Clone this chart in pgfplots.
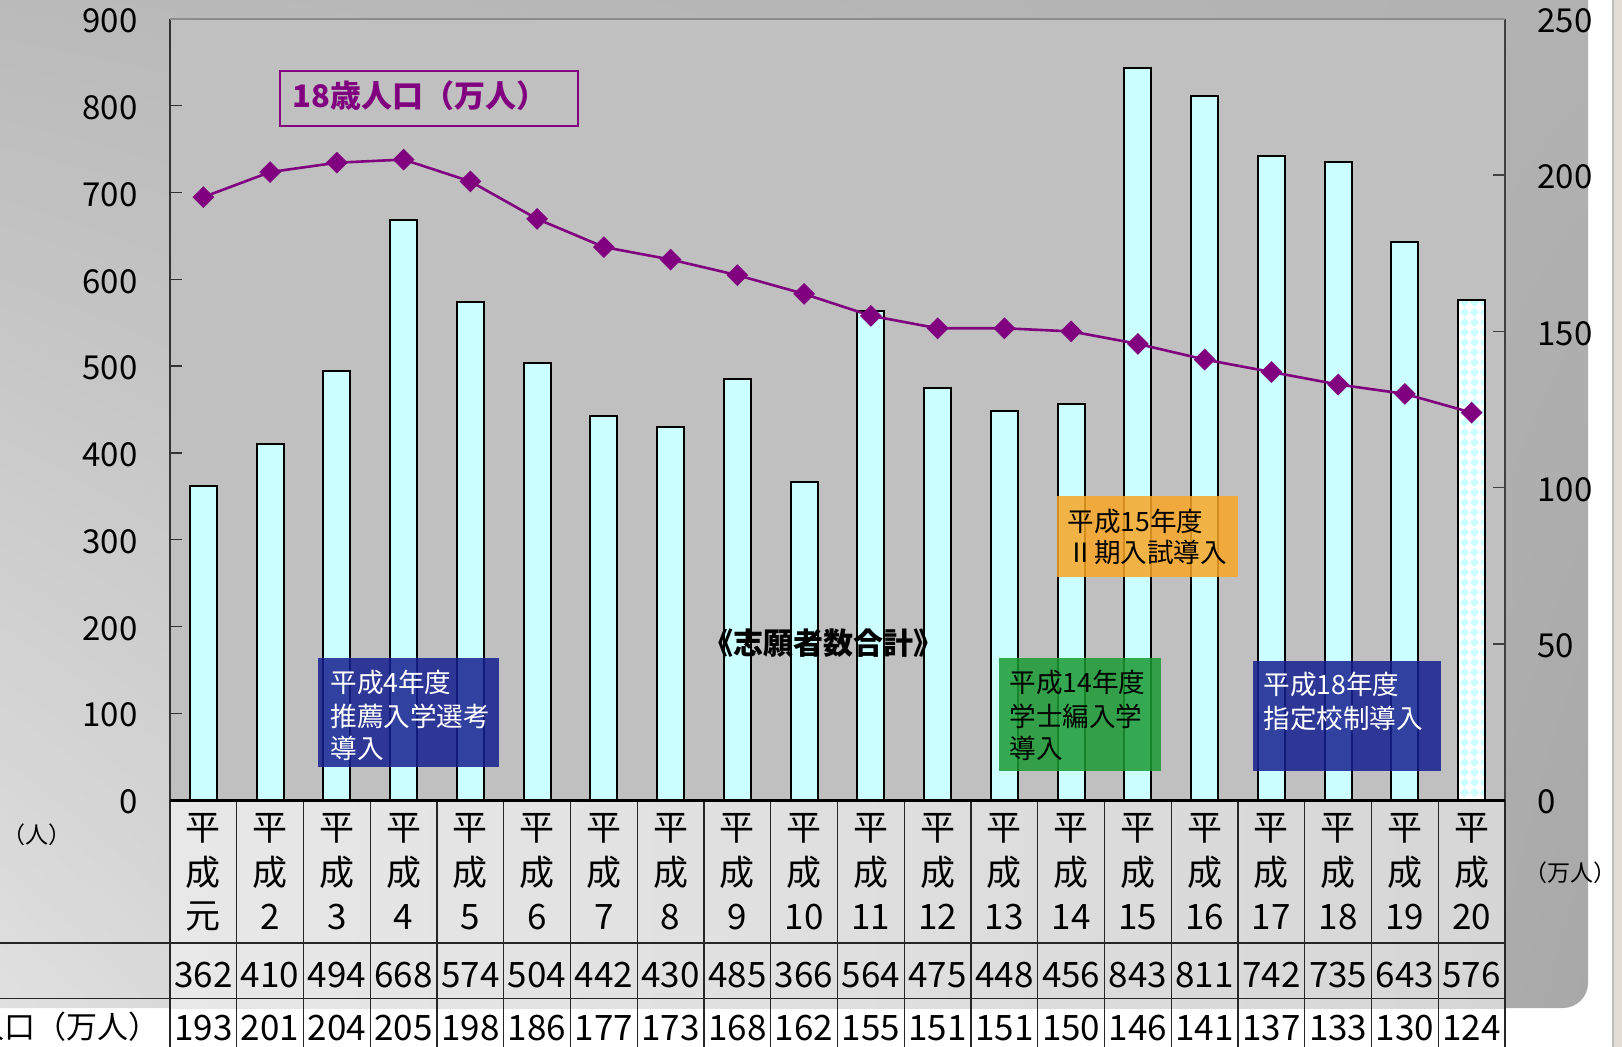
\documentclass[border=0pt]{standalone}
\usepackage{fontspec}
\setmainfont{Noto Sans CJK JP}
\usepackage{pgfplots}
\pgfplotsset{compat=1.18}
\usetikzlibrary{patterns,shadings}
\definecolor{barcyan}{RGB}{204,255,255}
\definecolor{plotgray}{RGB}{192,192,192}
\definecolor{linepurple}{RGB}{128,0,128}
\definecolor{boxblue}{RGB}{22,32,143}
\definecolor{boxgreen}{RGB}{27,154,51}
\definecolor{boxorange}{RGB}{248,166,37}
\definecolor{bgUL}{RGB}{184,184,184}
\definecolor{bgUR}{RGB}{178,178,178}
\definecolor{bgLL}{RGB}{226,226,226}
\definecolor{bgLR}{RGB}{168,168,168}
\definecolor{tabL}{RGB}{232,232,232}
\definecolor{tabR}{RGB}{214,214,214}
\definecolor{beige}{RGB}{226,220,210}
\pgfdeclarepatternformonly{mydiamonds}{\pgfqpoint{0pt}{0pt}}{\pgfqpoint{5pt}{5pt}}{\pgfqpoint{5pt}{5pt}}{%
  \pgfpathmoveto{\pgfqpoint{2.5pt}{0pt}}%
  \pgfpathlineto{\pgfqpoint{5pt}{2.5pt}}%
  \pgfpathlineto{\pgfqpoint{2.5pt}{5pt}}%
  \pgfpathlineto{\pgfqpoint{0pt}{2.5pt}}%
  \pgfpathclose
  \pgfusepath{fill}%
}
\newcommand\tickfont{\fontsize{16.5}{16.5}\selectfont}
\newcommand\tabfont{\fontsize{17.5}{17.5}\selectfont}
\newcommand\boxfont{\fontsize{13.3}{16.5}\selectfont}
\begin{document}
\begin{tikzpicture}
% background (pixel coordinates, y downward)
\begin{scope}[x=0.5pt,y=-0.5pt]
\begin{scope}
\clip (0,0) rectangle (1622,1047);
\fill[white] (0,0) rectangle (1622,1047);
\shade[upper left=bgUL, upper right=bgUR, lower left=bgLL, lower right=bgLR, rounded corners=12.5pt] (-60,-60) rectangle (1588,1008);
\fill[beige] (1613,0) rectangle (1622,1047);
\draw[black!25, line width=0.6pt] (1613,0) -- (1613,1047);
\shade[left color=tabL, right color=tabR] (170,800) rectangle (1505,1008);
\end{scope}
\end{scope}

% bars: applicants (left axis)
\begin{axis}[
  at={(85pt,-400pt)}, anchor=south west, scale only axis,
  width=667.5pt, height=390.5pt,
  xmin=-0.5, xmax=19.5, ymin=0, ymax=900,
  ytick={0,100,...,900}, xtick=\empty,
  axis x line=none, axis y line*=left,
  axis line style={draw=black!80, line width=0.7pt},
  tick align=inside, major tick length=6pt,
  tick style={black!80, line width=0.7pt},
  yticklabel style={font=\tickfont, inner sep=0pt, xshift=-16pt, yshift=-1pt},
  /pgf/number format/assume math mode=true,
  axis background/.style={fill=plotgray},
  clip=false]
\addplot[ybar, bar width=13.5pt, bar shift=0pt, fill=barcyan, draw=black, line width=1pt]
  coordinates {(0,362) (1,410) (2,494) (3,668) (4,574) (5,504) (6,442) (7,430) (8,485) (9,366)
               (10,564) (11,475) (12,448) (13,456) (14,843) (15,811) (16,742) (17,735) (18,643)};
\addplot[ybar, bar width=13.5pt, bar shift=0pt, fill=white, draw=black, line width=1pt,
  postaction={pattern=mydiamonds, pattern color=barcyan}]
  coordinates {(19,576)};
\end{axis}

% line: 18-year-old population (right axis)
\begin{axis}[
  at={(85pt,-400pt)}, anchor=south west, scale only axis,
  width=667.5pt, height=390.5pt,
  xmin=-0.5, xmax=19.5, ymin=0, ymax=250,
  ytick={0,50,...,250}, xtick=\empty,
  axis x line=none, axis y line*=right,
  axis line style={draw=black!75, line width=0.7pt},
  tick align=inside, major tick length=6pt,
  tick style={black!75, line width=0.7pt},
  yticklabel style={font=\tickfont, inner sep=0pt, xshift=16pt, yshift=-1pt},
  /pgf/number format/assume math mode=true,
  clip=false]
\addplot[linepurple, line width=1.3pt, mark=square*, mark size=3.2pt,
  mark options={rotate=45, fill=linepurple, draw=linepurple, solid}]
  coordinates {(0,193) (1,201) (2,204) (3,205) (4,198) (5,186) (6,177) (7,173) (8,168) (9,162)
               (10,155) (11,151) (12,151) (13,150) (14,146) (15,141) (16,137) (17,133) (18,130) (19,124)};
\end{axis}

% table, annotations (pixel coordinates)
\begin{scope}[x=0.5pt,y=-0.5pt]
\clip (0,0) rectangle (1622,1047);
\draw[black!45, line width=0.7pt] (170,19) -- (1505,19);
\foreach \k in {0,...,20} \draw[black!85, line width=0.7pt] ({170+66.75*\k},800) -- ({170+66.75*\k},1047);
\draw[black!85, line width=0.7pt] (0,943) -- (1505,943);
\draw[black!85, line width=0.7pt] (0,998.5) -- (1505,998.5);
\draw[black, line width=1.5pt] (170,800) -- (1505,800);
\foreach \lab [count=\i from 0] in {元,2,3,4,5,6,7,8,9,10,11,12,13,14,15,16,17,18,19,20} {
  \node[font=\tabfont, inner sep=0pt] at ({170+66.75*(\i+0.5)},828) {平};
  \node[font=\tabfont, inner sep=0pt] at ({170+66.75*(\i+0.5)},872) {成};
  \node[font=\tabfont, inner sep=0pt] at ({170+66.75*(\i+0.5)},917) {\lab};
}
\foreach \v [count=\i from 0] in {362,410,494,668,574,504,442,430,485,366,564,475,448,456,843,811,742,735,643,576}
  \node[font=\tabfont, inner sep=0pt] at ({170+66.75*(\i+0.5)},975) {\v};
\foreach \v [count=\i from 0] in {193,201,204,205,198,186,177,173,168,162,155,151,151,150,146,141,137,133,130,124}
  \node[font=\tabfont, inner sep=0pt] at ({170+66.75*(\i+0.5)},1028) {\v};
\node[font=\fontsize{15.5}{15.5}\selectfont, anchor=east, inner sep=0pt] at (160,1027) {18歳人口（万人）};
\node[font=\fontsize{11.5}{11.5}\selectfont, inner sep=0pt] at (37,835) {（人）};
\node[font=\fontsize{11.5}{11.5}\selectfont, inner sep=0pt] at (1570,873) {（万人）};
% legend-like label
\draw[linepurple, line width=1.3pt] (280,71) rectangle (578,126);
\node[font=\fontsize{15.5}{15.5}\selectfont\bfseries, text=linepurple, anchor=west, inner sep=0pt] at (292,96) {18歳人口（万人）};
% annotation boxes
\fill[boxblue, opacity=0.85] (318,658) rectangle (499,767);
\node[font=\boxfont, text=white, anchor=west, inner sep=0pt] at (330,682) {平成4年度};
\node[font=\boxfont, text=white, anchor=west, inner sep=0pt] at (330,716) {推薦入学選考};
\node[font=\boxfont, text=white, anchor=west, inner sep=0pt] at (330,748) {導入};
\fill[boxgreen, opacity=0.85] (999,658) rectangle (1161,771);
\node[font=\boxfont, text=black, anchor=west, inner sep=0pt] at (1009,682) {平成14年度};
\node[font=\boxfont, text=black, anchor=west, inner sep=0pt] at (1009,716) {学士編入学};
\node[font=\boxfont, text=black, anchor=west, inner sep=0pt] at (1009,748) {導入};
\fill[boxorange, opacity=0.85] (1057,496) rectangle (1238,577);
\node[font=\boxfont, text=black, anchor=west, inner sep=0pt] at (1067,521) {平成15年度};
\node[font=\boxfont, text=black, anchor=west, inner sep=0pt] at (1067,552) {Ⅱ期入試導入};
\fill[boxblue, opacity=0.85] (1253,661) rectangle (1441,771);
\node[font=\boxfont, text=white, anchor=west, inner sep=0pt] at (1263,684) {平成18年度};
\node[font=\boxfont, text=white, anchor=west, inner sep=0pt] at (1263,718) {指定校制導入};
\node[font=\fontsize{15}{15}\selectfont\bfseries, inner sep=0pt] at (823,643) {《志願者数合計》};
\end{scope}
\pgfresetboundingbox
\path[use as bounding box] (0pt,0pt) rectangle (811pt,-523.5pt);
\end{tikzpicture}
\end{document}
